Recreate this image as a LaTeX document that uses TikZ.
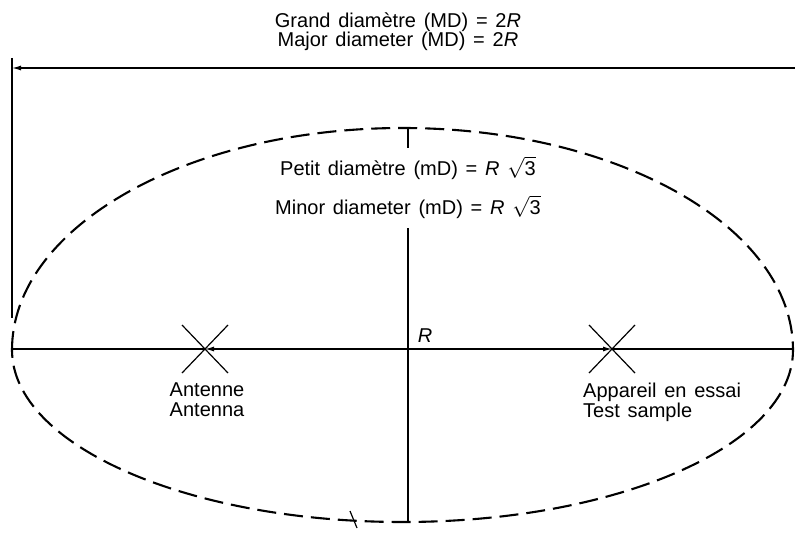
\documentclass[tikz,border=0pt]{standalone}
\usepackage{fontspec}
\setmainfont{Liberation Sans}[WordSpace=1.4]
\usetikzlibrary{arrows.meta}
\begin{document}
\begin{tikzpicture}[x=1pt,y=1pt,
  >={Latex[length=9pt,width=5pt]},
  lbl/.style={font=\fontsize{20}{20}\selectfont, inner sep=0pt, align=center},
  axisline/.style={line width=1.2pt},
  dimline/.style={line width=1.2pt},
  ellipseline/.style={line width=2.1pt, dash pattern=on 19pt off 8pt},
  xmark/.style={line width=1.2pt}
  ]
\useasboundingbox (0,0) rectangle (795,-559);
% key points
\coordinate (EL) at (12,-349);
\coordinate (ER) at (793,-349);
\coordinate (A) at (205,-349);
\coordinate (S) at (612,-349);
\coordinate (ET) at (408,-128);
\coordinate (EB) at (408,-522);
\coordinate (V1) at (408,-148);
\coordinate (V2) at (408,-228);
\coordinate (DL) at (12,-68);
\coordinate (DR) at (795,-68);
\coordinate (X1) at (12,-58);
\coordinate (X2) at (12,-318);
\coordinate (B1) at (357,-528);
\coordinate (B2) at (350,-511);
% ellipse
\draw[ellipseline] (12,-350) arc[start angle=180,end angle=0,x radius=390.5,y radius=222]
  arc[start angle=0,end angle=-180,x radius=390.5,y radius=172];
% texts
\node[lbl] (t1) at (398,-22) {Grand diamètre (MD) = 2\textit{R}};
\node[lbl] (t2) at (398,-41) {Major diameter (MD) = 2\textit{R}};
\node[lbl] (p1) at (408,-168) {Petit diamètre (mD) = \textit{R} $\sqrt{\mbox{3}}$};
\node[lbl] (p2) at (408,-207) {Minor diameter (mD) = \textit{R} $\sqrt{\mbox{3}}$};
\node[lbl, anchor=north] (ant) at (207,-383) {Antenne\\Antenna};
\node[lbl, anchor=north west, align=left] (ts) at (583,-383) {Appareil en essai\\Test sample};
\node[lbl, font=\fontsize{20}{20}\selectfont\itshape] (R) at (425,-336) {R};
% dimension line
\draw[dimline, <-] (DL) -- (DR);
\draw[dimline] (X1) -- (X2);
% axes
\draw[axisline] (EL) -- (A);
\draw[axisline, <->] (A) -- (S);
\draw[axisline] (S) -- (ER);
\draw[axisline] (ET) -- (V1);
\draw[axisline] (V2) -- (EB);
% X marks
\draw[xmark] (A) ++(-23,24) -- ++(46,-48);
\draw[xmark] (A) ++(-23,-24) -- ++(46,48);
\draw[xmark] (S) ++(-23,24) -- ++(46,-48);
\draw[xmark] (S) ++(-23,-24) -- ++(46,48);
% leader
\draw[line width=1.2pt] (B1) -- (B2);
\end{tikzpicture}
\end{document}
